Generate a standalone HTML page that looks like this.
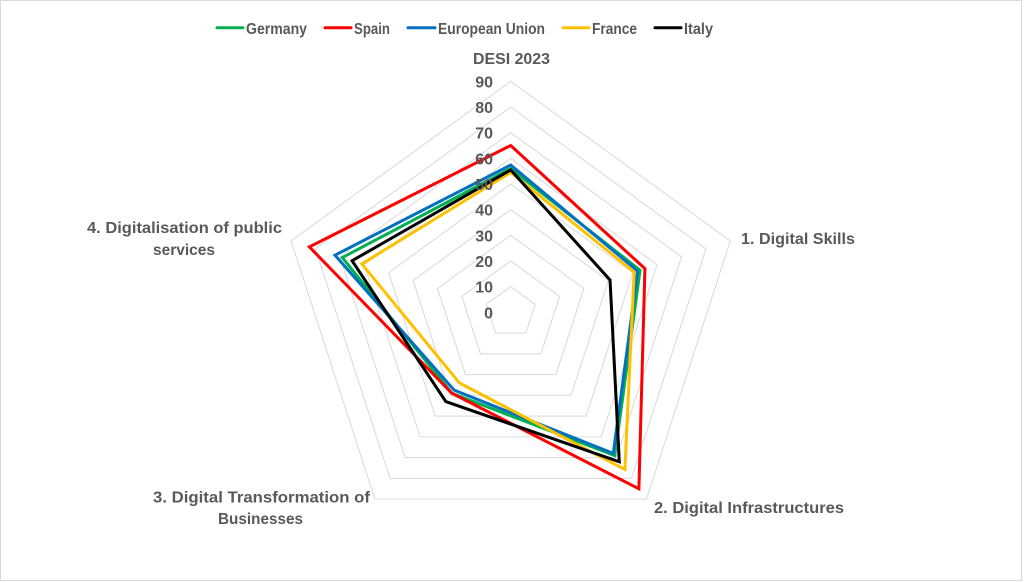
<!DOCTYPE html>
<html>
<head>
<meta charset="utf-8">
<style>
  html, body { margin: 0; padding: 0; background: #ffffff; }
  svg { display: block; }
  text { font-family: "Liberation Sans", Arial, sans-serif; font-weight: bold; fill: #595959; }
</style>
</head>
<body>
<svg width="1024" height="583" viewBox="0 0 1024 583" xmlns="http://www.w3.org/2000/svg">
  <rect x="0" y="0" width="1024" height="583" fill="#ffffff"/>
  <rect x="0.5" y="0.5" width="1021" height="580" fill="none" stroke="#d9d9d9" stroke-width="1"/>

  <!-- Legend -->
  <g stroke-width="3" stroke-linecap="round">
    <line x1="217" y1="27.7" x2="243" y2="27.7" stroke="#00B050"/>
    <line x1="325" y1="27.7" x2="351" y2="27.7" stroke="#FF0000"/>
    <line x1="408" y1="27.7" x2="435" y2="27.7" stroke="#0070C0"/>
    <line x1="563" y1="27.7" x2="589" y2="27.7" stroke="#FFC000"/>
    <line x1="655" y1="27.7" x2="681" y2="27.7" stroke="#000000"/>
  </g>
  <g font-size="16">
    <text x="246" y="34" textLength="61" lengthAdjust="spacingAndGlyphs">Germany</text>
    <text x="354" y="34" textLength="36" lengthAdjust="spacingAndGlyphs">Spain</text>
    <text x="438" y="34" textLength="107" lengthAdjust="spacingAndGlyphs">European Union</text>
    <text x="592" y="34" textLength="45" lengthAdjust="spacingAndGlyphs">France</text>
    <text x="684" y="34" textLength="29" lengthAdjust="spacingAndGlyphs">Italy</text>
  </g>

  <!-- Grid pentagons -->
  <g transform="translate(510.7,312.3)" fill="none" stroke="#d9d9d9" stroke-width="1">
    <polygon points="0,-1 0.9511,-0.309 0.5878,0.809 -0.5878,0.809 -0.9511,-0.309" transform="scale(25.66)" vector-effect="non-scaling-stroke"/>
    <polygon points="0,-1 0.9511,-0.309 0.5878,0.809 -0.5878,0.809 -0.9511,-0.309" transform="scale(51.32)" vector-effect="non-scaling-stroke"/>
    <polygon points="0,-1 0.9511,-0.309 0.5878,0.809 -0.5878,0.809 -0.9511,-0.309" transform="scale(76.98)" vector-effect="non-scaling-stroke"/>
    <polygon points="0,-1 0.9511,-0.309 0.5878,0.809 -0.5878,0.809 -0.9511,-0.309" transform="scale(102.64)" vector-effect="non-scaling-stroke"/>
    <polygon points="0,-1 0.9511,-0.309 0.5878,0.809 -0.5878,0.809 -0.9511,-0.309" transform="scale(128.3)" vector-effect="non-scaling-stroke"/>
    <polygon points="0,-1 0.9511,-0.309 0.5878,0.809 -0.5878,0.809 -0.9511,-0.309" transform="scale(153.96)" vector-effect="non-scaling-stroke"/>
    <polygon points="0,-1 0.9511,-0.309 0.5878,0.809 -0.5878,0.809 -0.9511,-0.309" transform="scale(179.62)" vector-effect="non-scaling-stroke"/>
    <polygon points="0,-1 0.9511,-0.309 0.5878,0.809 -0.5878,0.809 -0.9511,-0.309" transform="scale(205.28)" vector-effect="non-scaling-stroke"/>
    <polygon points="0,-1 0.9511,-0.309 0.5878,0.809 -0.5878,0.809 -0.9511,-0.309" transform="scale(230.94)" vector-effect="non-scaling-stroke"/>
  </g>

  <!-- Data series -->
  <g transform="translate(510.7,312.3) scale(2.566)" fill="none" stroke-width="3" stroke-linejoin="miter">
    <polygon vector-effect="non-scaling-stroke" stroke="#00B050" points="0,-56 50.41,-16.38 40.56,55.82 -22.92,31.55 -65.63,-21.32"/>
    <polygon vector-effect="non-scaling-stroke" stroke="#FF0000" points="0,-65 52.31,-17.0 49.96,68.77 -22.92,31.55 -78.47,-25.49"/>
    <polygon vector-effect="non-scaling-stroke" stroke="#0070C0" points="0,-57.4 49.46,-16.07 39.97,55.01 -22.04,30.34 -68.48,-22.25"/>
    <polygon vector-effect="non-scaling-stroke" stroke="#FFC000" points="0,-54.5 48.13,-15.64 44.50,61.24 -19.99,27.51 -58.02,-18.85"/>
    <polygon vector-effect="non-scaling-stroke" stroke="#000000" points="0,-55.5 38.71,-12.58 42.32,58.25 -25.28,34.79 -61.82,-20.09"/>
  </g>

  <!-- Tick labels -->
  <g font-size="16" text-anchor="end">
    <text x="493" y="87.4">90</text>
    <text x="493" y="113.1">80</text>
    <text x="493" y="138.7">70</text>
    <text x="493" y="164.4">60</text>
    <text x="493" y="190.0">50</text>
    <text x="493" y="215.7">40</text>
    <text x="493" y="241.4">30</text>
    <text x="493" y="267.0">20</text>
    <text x="493" y="292.7">10</text>
    <text x="493" y="318.3">0</text>
  </g>

  <!-- Category labels -->
  <g font-size="16">
    <text x="473" y="64" textLength="77" lengthAdjust="spacingAndGlyphs">DESI 2023</text>
    <text x="741" y="244" textLength="114" lengthAdjust="spacingAndGlyphs">1. Digital Skills</text>
    <text x="654" y="513" textLength="190" lengthAdjust="spacingAndGlyphs">2. Digital Infrastructures</text>
    <text x="153" y="502.5" textLength="217" lengthAdjust="spacingAndGlyphs">3. Digital Transformation of</text>
    <text x="218" y="524" textLength="85" lengthAdjust="spacingAndGlyphs">Businesses</text>
    <text x="87" y="233" textLength="195" lengthAdjust="spacingAndGlyphs">4. Digitalisation of public</text>
    <text x="153" y="255" textLength="62" lengthAdjust="spacingAndGlyphs">services</text>
  </g>
</svg>
</body>
</html>
